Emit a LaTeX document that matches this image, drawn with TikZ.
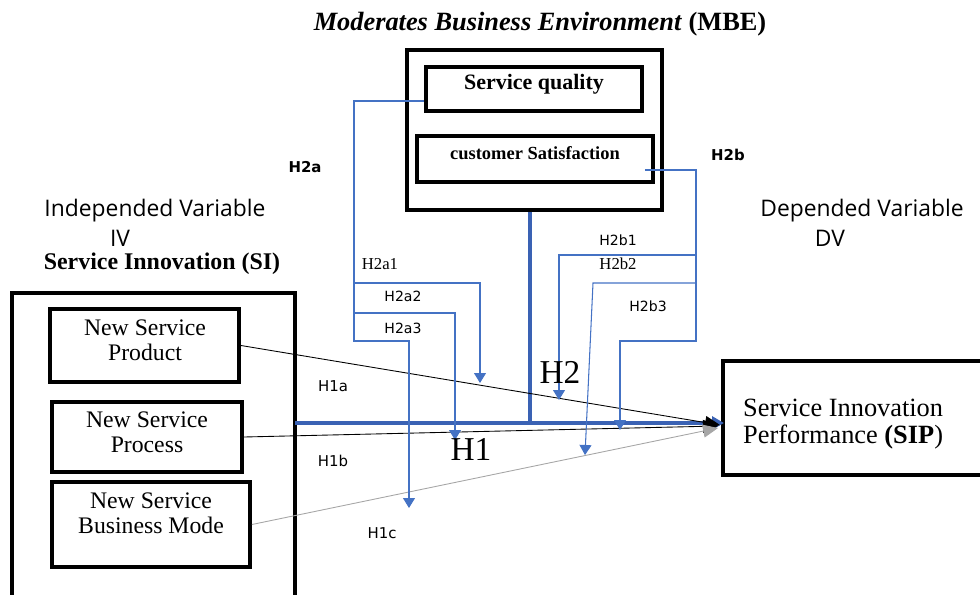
\documentclass[tikz,border=0pt]{standalone}
\usepackage{fontspec}
\setmainfont{Liberation Serif}
\newfontfamily\hfont{DejaVu Sans}
\newfontfamily\varfont{Open Sans}
\usepackage{xcolor}
\usetikzlibrary{arrows.meta, positioning}
\definecolor{linkblue}{HTML}{4472C4}
\definecolor{trunkblue}{HTML}{3A62B4}

\begin{document}
\begin{tikzpicture}[x=0.2mm, y=-0.2mm,
    box/.style={draw, line width=2.2pt, inner sep=0pt},
    link/.style={draw=linkblue, line width=0.6pt, -{Triangle[length=2mm,width=2.4mm]}},
    trunk/.style={draw=trunkblue, line width=2.6pt},
    hlabel/.style={font=\hfont\fontsize{8}{9}\selectfont},
    boxtext/.style={align=center, font=\fontsize{13.5}{14.2}\selectfont}]
    \useasboundingbox (0,0) rectangle (980,594);

    % moderator
    \node[font=\fontsize{15}{17}\selectfont] at (540,24)
        {\textbf{\textit{Moderates Business Environment}} \textbf{(MBE)}};
    \node[box, minimum width=51mm, minimum height=32mm] (mbe) at (534.5,130) {};
    \node[box, minimum width=43.2mm, minimum height=8.8mm] (sq) at (534,89) {};
    \node[box, minimum width=47.2mm, minimum height=9.2mm] (cs) at (535,159) {};
    \node[font=\bfseries\fontsize{12.5}{14}\selectfont] at (534,84) {Service quality};
    \node[font=\bfseries\fontsize{10.5}{12}\selectfont] at (535,153) {customer Satisfaction};

    % independent side
    \node[font=\varfont\fontsize{13}{15}\selectfont] at (155,211) {Independed Variable};
    \node[font=\varfont\fontsize{13}{15}\selectfont] at (120,238) {IV};
    \node[font=\bfseries\fontsize{13.6}{15}\selectfont] at (162,264) {Service Innovation (SI)};
    \node[box, minimum width=56.6mm, minimum height=69.4mm] (si) at (153.5,466.5) {};
    \node[box, minimum width=37.8mm, minimum height=14.6mm] (nsp) at (144.5,345.5) {};
    \node[box, minimum width=38mm, minimum height=14mm] (nsr) at (147,437) {};
    \node[box, minimum width=39.6mm, minimum height=17mm] (nsb) at (151,524.5) {};
    \node[boxtext] at (145,340) {New Service\\Product};
    \node[boxtext] at (147,432) {New Service\\Process};
    \node[boxtext] at (151,513) {New Service\\Business Mode};

    % dependent side
    \node[font=\varfont\fontsize{13}{15}\selectfont] at (862,211) {Depended Variable};
    \node[font=\varfont\fontsize{13}{15}\selectfont] at (830,238) {DV};
    \node[box, minimum width=55.4mm, minimum height=22.8mm] (sip) at (861.5,418) {};
    \node[anchor=west, align=left, font=\fontsize{15}{15.3}\selectfont] at (737,424)
        {Service Innovation\\Performance \textbf{(SIP})};

    % main paths
    \coordinate (hubL) at (295,423);
    \coordinate (hub) at (530,423);
    \coordinate (tip) at (724,423);
    \draw[trunk] (hub |- mbe.south) -- (hub);
    \draw[trunk, -{Triangle[length=2.4mm,width=2.6mm]}] (hubL) -- (tip);
    \draw[black, line width=0.5pt, -{Triangle[length=3mm,width=2.6mm]}] (nsp.east) -- (720,425);
    \draw[black, line width=0.5pt, -{Triangle[length=3mm,width=2.6mm]}] (nsr.east) -- (718,426);
    \draw[gray!70, line width=0.5pt, -{Triangle[length=3mm,width=2.6mm]}] (nsb.east) -- (718,428);

    % moderating links
    \draw[link] ([yshift=-2.4mm]sq.west) -| (354,341) -| (409,508);
    \draw[link] (354,283) -| (480,383);
    \draw[link] (354,313) -| (455,440);
    \draw[link] ([xshift=-2mm,yshift=-2.2mm]cs.east) -| (696,341) -| (620,430);
    \draw[link] (696,255) -| (559,400);
    \draw[link] (696,283) -- (593,283) -- (585,455);

    % labels
    \node[hlabel, font=\hfont\bfseries\fontsize{8.5}{9}\selectfont] at (305,167) {H2a};
    \node[hlabel, font=\hfont\bfseries\fontsize{8.5}{9}\selectfont] at (728,155) {H2b};
    \node[font=\fontsize{9.5}{10}\selectfont] at (380,264) {H2a1};
    \node[hlabel] at (403,296) {H2a2};
    \node[hlabel] at (403,328) {H2a3};
    \node[hlabel] at (618,240) {H2b1};
    \node[font=\fontsize{9.5}{10}\selectfont] at (618,264) {H2b2};
    \node[hlabel] at (648,306) {H2b3};
    \node[hlabel, font=\hfont\fontsize{8.5}{9}\selectfont] at (333,386) {H1a};
    \node[hlabel, font=\hfont\fontsize{8.5}{9}\selectfont] at (333,461) {H1b};
    \node[hlabel, font=\hfont\fontsize{8.5}{9}\selectfont] at (382,533) {H1c};
    \node[font=\fontsize{19}{20}\selectfont] at (560,372) {H2};
    \node[font=\fontsize{19}{20}\selectfont] at (471,449) {H1};
\end{tikzpicture}
\end{document}
